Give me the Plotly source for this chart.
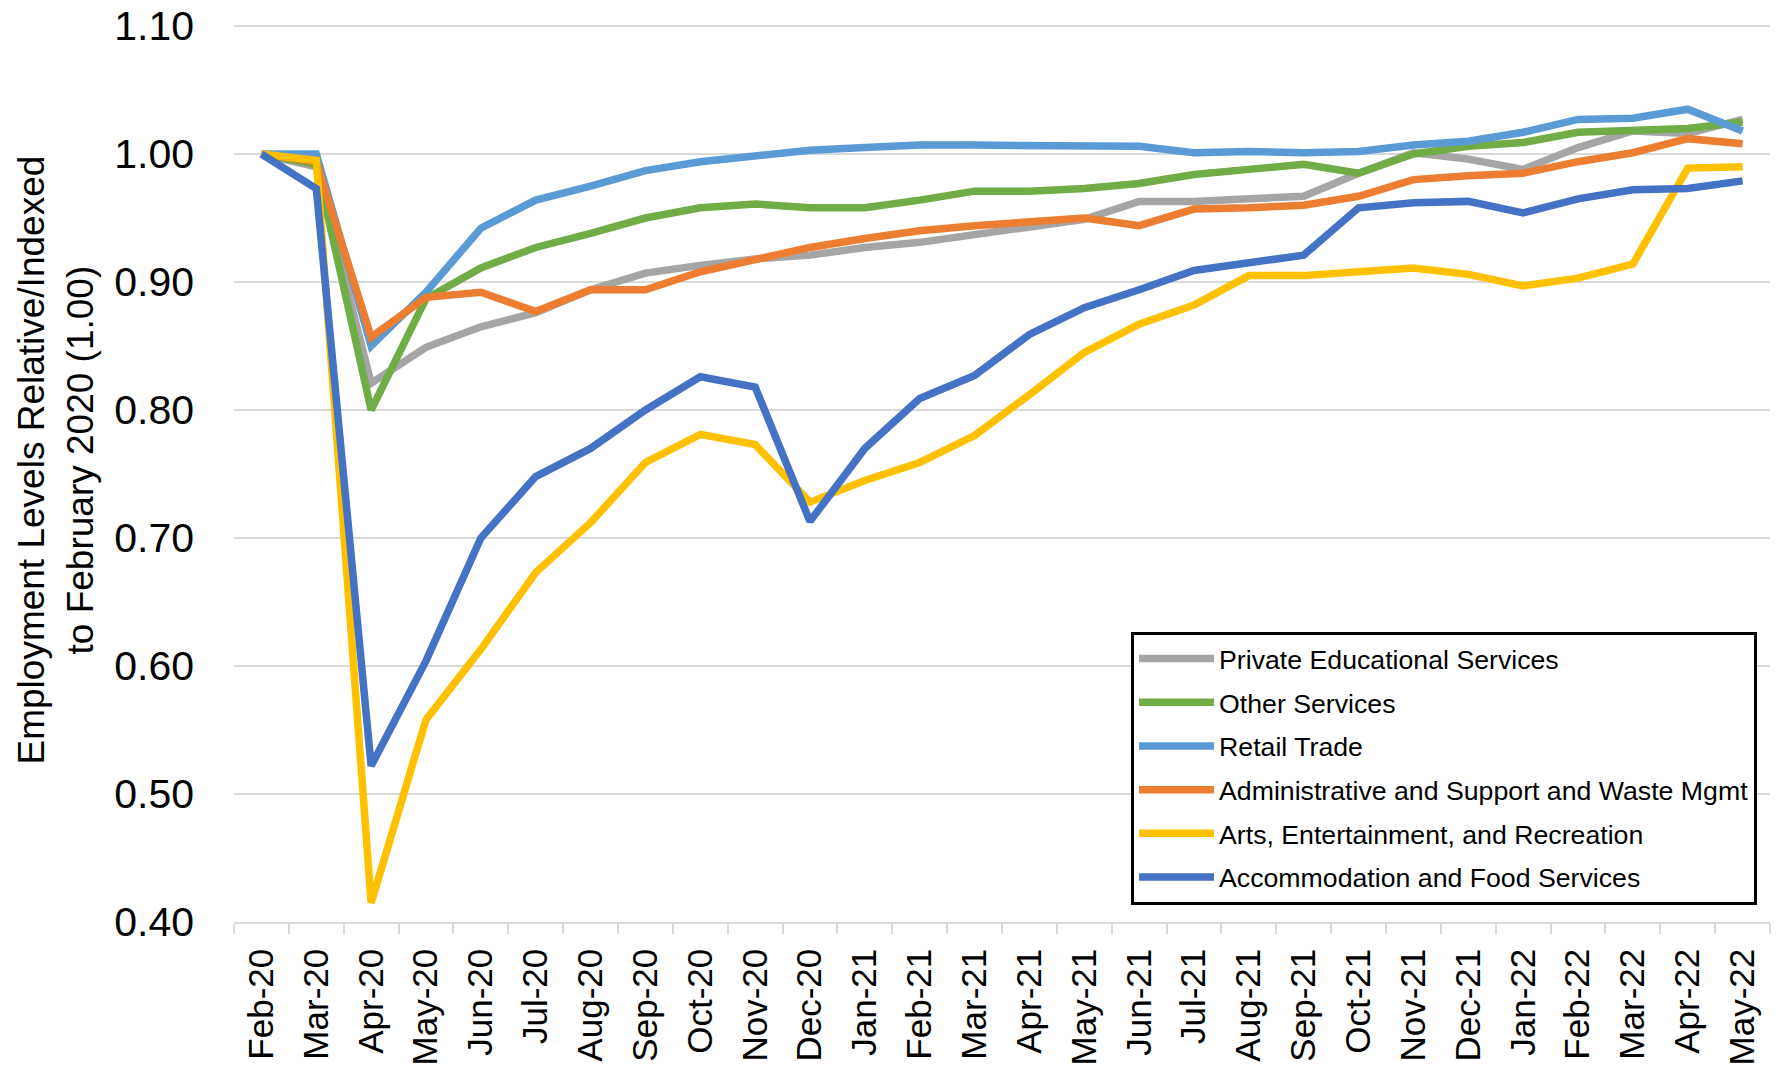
import plotly.graph_objects as go

months = ["Feb-20", "Mar-20", "Apr-20", "May-20", "Jun-20", "Jul-20", "Aug-20", "Sep-20",
          "Oct-20", "Nov-20", "Dec-20", "Jan-21", "Feb-21", "Mar-21", "Apr-21", "May-21",
          "Jun-21", "Jul-21", "Aug-21", "Sep-21", "Oct-21", "Nov-21", "Dec-21", "Jan-22",
          "Feb-22", "Mar-22", "Apr-22", "May-22"]

private_educational = [1.000, 0.990, 0.821, 0.849, 0.865, 0.876, 0.894, 0.907, 0.913, 0.918,
                       0.921, 0.927, 0.931, 0.937, 0.942, 0.949, 0.963, 0.963, 0.965, 0.967,
                       0.985, 1.001, 0.996, 0.988, 1.005, 1.018, 1.016, 1.027]
other_services = [1.000, 0.992, 0.800, 0.887, 0.911, 0.927, 0.938, 0.950, 0.958, 0.961,
                  0.958, 0.958, 0.964, 0.971, 0.971, 0.973, 0.977, 0.984, 0.988, 0.992,
                  0.985, 1.000, 1.006, 1.009, 1.017, 1.019, 1.020, 1.025]
retail_trade = [1.000, 1.000, 0.850, 0.892, 0.942, 0.964, 0.975, 0.987, 0.994, 0.998,
                1.003, 1.005, 1.007, 1.007, 1.007, 1.006, 1.006, 1.001, 1.002, 1.001,
                1.002, 1.007, 1.010, 1.017, 1.027, 1.028, 1.035, 1.018]
admin_support = [1.000, 0.994, 0.857, 0.888, 0.892, 0.877, 0.894, 0.894, 0.908, 0.918,
                 0.927, 0.934, 0.940, 0.944, 0.947, 0.950, 0.944, 0.957, 0.958, 0.960,
                 0.967, 0.980, 0.983, 0.985, 0.994, 1.001, 1.012, 1.008]
arts_entertainment = [1.000, 0.995, 0.415, 0.558, 0.613, 0.673, 0.712, 0.759, 0.781, 0.773,
                      0.728, 0.745, 0.759, 0.780, 0.812, 0.845, 0.867, 0.882, 0.905, 0.905,
                      0.908, 0.911, 0.906, 0.897, 0.903, 0.914, 0.989, 0.990]
accommodation_food = [1.000, 0.973, 0.522, 0.604, 0.700, 0.748, 0.770, 0.800, 0.826, 0.818,
                      0.713, 0.770, 0.809, 0.827, 0.859, 0.880, 0.894, 0.909, 0.915, 0.921,
                      0.958, 0.962, 0.963, 0.954, 0.965, 0.972, 0.973, 0.979]

series = [
    ("Private Educational Services", private_educational, "#A5A5A5"),
    ("Other Services", other_services, "#70AD47"),
    ("Retail Trade", retail_trade, "#5B9BD5"),
    ("Administrative and Support and Waste Mgmt", admin_support, "#ED7D31"),
    ("Arts, Entertainment, and Recreation", arts_entertainment, "#FFC000"),
    ("Accommodation and Food Services", accommodation_food, "#4472C4"),
]

y_ticks = [0.40, 0.50, 0.60, 0.70, 0.80, 0.90, 1.00, 1.10]

FONT = "Liberation Sans, Arial, sans-serif"

fig = go.Figure()
for name, vals, color in series:
    fig.add_trace(go.Scatter(
        x=months, y=vals, mode="lines", name=name, legendgroup=name,
        line=dict(color=color, width=7.5),
    ))

fig.update_layout(
    width=1778, height=1068,
    margin=dict(l=234, r=8, t=25, b=146, autoexpand=False),
    plot_bgcolor="white", paper_bgcolor="white",
    font=dict(family=FONT, color="black"),
    showlegend=True,
    legend=dict(
        x=0.584, y=0.3237, xanchor="left", yanchor="top",
        bordercolor="black", borderwidth=3, bgcolor="white",
        font=dict(size=26.7, family=FONT, color="black"),
        tracegroupgap=6, itemwidth=75,
    ),
    annotations=[dict(
        text="Employment Levels Relative/Indexed<br>to February 2020 (1.00)",
        xref="paper", yref="paper", x=-0.1159, y=0.5156,
        xanchor="center", yanchor="middle", textangle=-90, showarrow=False,
        font=dict(size=37, family=FONT, color="black"),
    )],
)

fig.update_xaxes(
    type="category", categoryorder="array", categoryarray=months,
    range=[-0.5, len(months) - 0.5], automargin=False,
    tickson="boundaries", ticks="outside", ticklen=10, tickwidth=1.5,
    tickcolor="#D9D9D9", showline=True, linecolor="#D9D9D9", linewidth=1.5,
    showgrid=False, tickangle=-90, tickfont=dict(size=35, family=FONT, color="black"),
    ticklabelstandoff=11,
)
fig.update_yaxes(
    range=[0.40, 1.1008], tickvals=y_ticks, ticktext=[f"{v:.2f}" for v in y_ticks],
    automargin=False,
    showgrid=True, gridcolor="#D9D9D9", gridwidth=1.5, zeroline=False,
    showline=False, ticks="", tickfont=dict(size=41, family=FONT, color="black"),
    ticklabelstandoff=39,
)

fig.write_html("out.html", config={"displayModeBar": False})

# remove the default 8px body margin of the page so the figure fills the window exactly
with open("out.html", "r", encoding="utf-8") as f:
    html = f.read()
html = html.replace("<head>", "<head><style>html,body{margin:0;padding:0;overflow:hidden;}</style>", 1)
with open("out.html", "w", encoding="utf-8") as f:
    f.write(html)
